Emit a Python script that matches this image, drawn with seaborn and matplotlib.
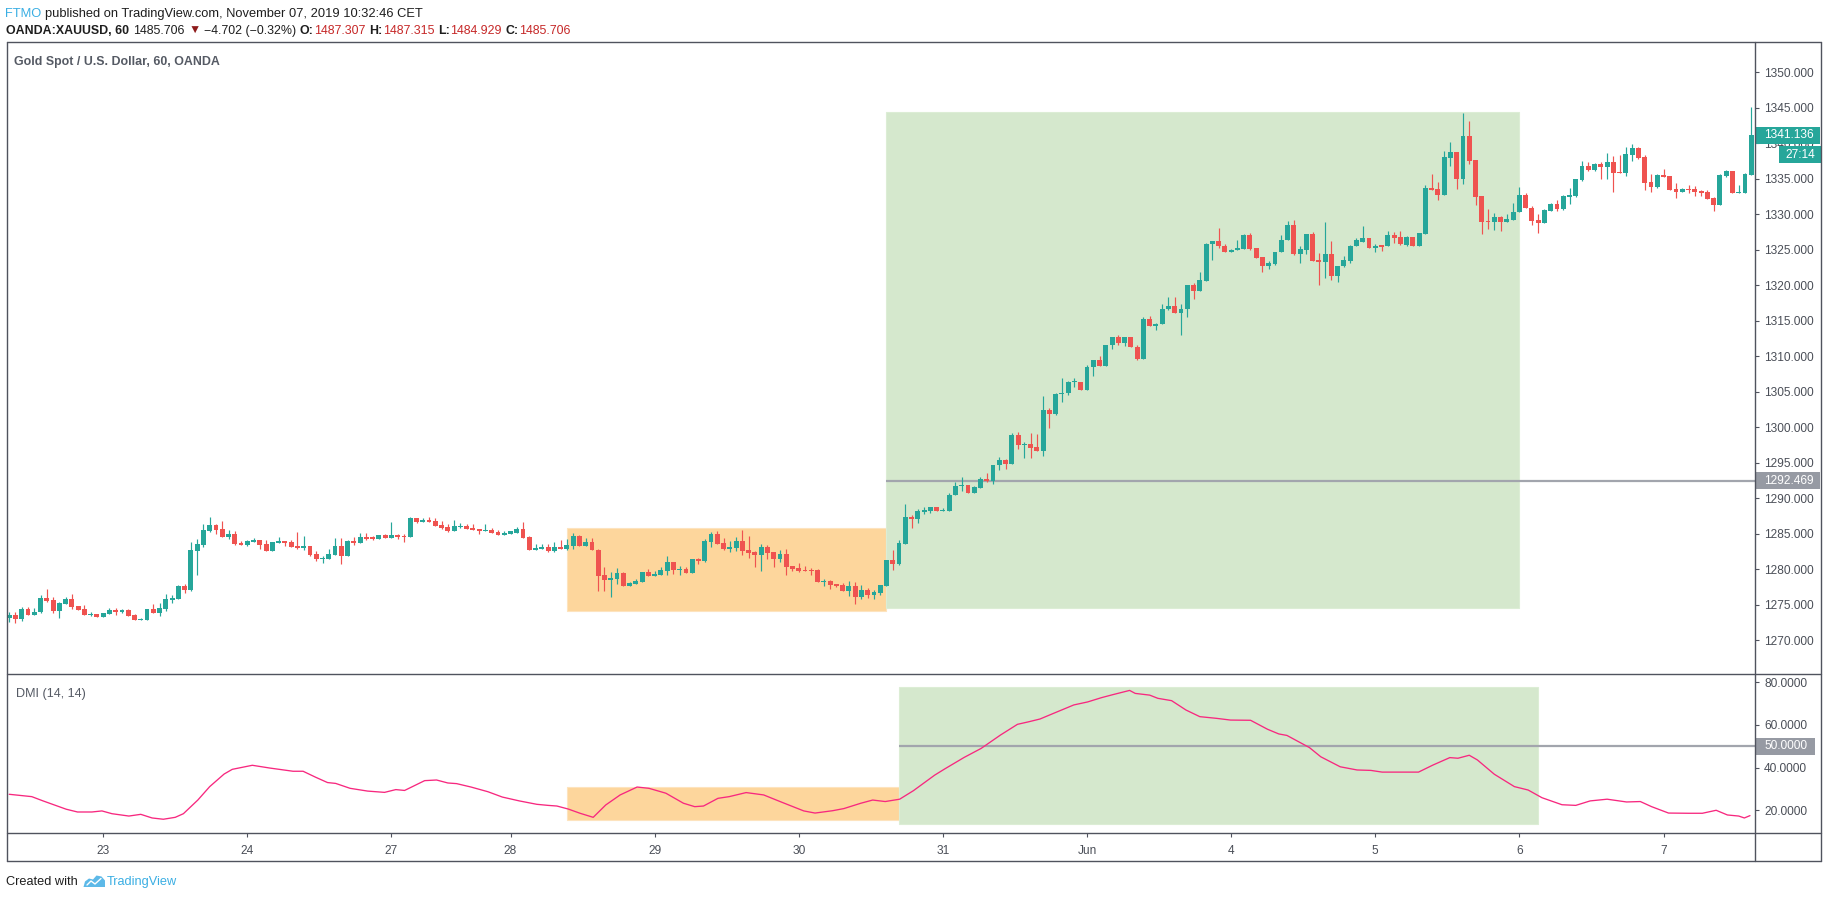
import numpy as np
import pandas as pd
import matplotlib
matplotlib.use("Agg")
import matplotlib.pyplot as plt
import matplotlib.transforms as mtransforms
from matplotlib.patches import Rectangle, Polygon
from matplotlib.lines import Line2D
import seaborn as sns

# ------------------------------------------------------------------ data
opens = [
    1273.19, 1273.57, 1273.00, 1274.41, 1273.57, 1273.99, 1275.96, 1275.68, 1274.13, 1275.12,
    1275.82, 1274.83, 1274.41, 1273.57, 1273.71, 1273.28, 1273.71, 1274.27, 1273.99, 1274.27,
    1273.57, 1272.86, 1272.86, 1274.41, 1273.85, 1274.41, 1275.68, 1275.82, 1277.65, 1277.09,
    1282.58, 1283.43, 1285.40, 1286.24, 1285.68, 1284.55, 1284.97, 1283.71, 1283.43, 1283.85,
    1284.13, 1283.57, 1282.58, 1283.71, 1283.99, 1283.85, 1283.28, 1283.00, 1283.28, 1282.16,
    1281.45, 1281.45, 1282.02, 1283.28, 1281.88, 1283.99, 1283.71, 1284.55, 1284.55, 1284.27,
    1284.83, 1284.41, 1284.83, 1284.69, 1284.55, 1287.23, 1286.66, 1286.95, 1286.81, 1286.24,
    1285.96, 1285.40, 1285.96, 1286.10, 1285.82, 1285.68, 1285.40, 1285.54, 1285.26, 1284.83,
    1284.97, 1285.12, 1285.68, 1284.55, 1282.72, 1282.86, 1283.14, 1282.58, 1283.14, 1282.86,
    1283.28, 1284.69, 1283.28, 1283.85, 1282.72, 1279.20, 1278.50, 1278.64, 1279.48, 1277.65,
    1277.93, 1278.21, 1279.62, 1279.06, 1279.20, 1279.76, 1281.03, 1279.90, 1280.04, 1279.48,
    1281.45, 1281.17, 1283.85, 1284.97, 1283.71, 1282.86, 1283.00, 1283.99, 1282.72, 1282.49,
    1282.02, 1283.14, 1282.44, 1281.45, 1282.16, 1280.47, 1280.19, 1279.90, 1279.90, 1279.90,
    1278.21, 1278.35, 1277.93, 1277.79, 1276.95, 1277.65, 1276.10, 1277.09, 1276.38, 1276.66,
    1277.65, 1281.31, 1280.75, 1283.57, 1287.43, 1287.04, 1288.01, 1288.21, 1288.84, 1288.21,
    1288.21, 1290.44, 1291.70, 1291.89, 1290.73, 1291.50, 1292.71, 1292.47, 1294.65, 1295.33,
    1294.80, 1298.96, 1297.46, 1297.70, 1297.27, 1296.64, 1302.50, 1301.82, 1304.63, 1304.78,
    1306.33, 1306.42, 1305.21, 1308.46, 1309.53, 1308.61, 1311.56, 1312.77, 1311.90, 1312.77,
    1311.37, 1309.67, 1315.29, 1314.23, 1314.52, 1316.60, 1317.13, 1316.07, 1316.60, 1320.09,
    1319.26, 1320.67, 1325.76, 1326.29, 1325.56, 1324.74, 1324.93, 1325.17, 1327.11, 1325.27,
    1324.01, 1322.66, 1323.04, 1324.64, 1326.34, 1328.52, 1324.45, 1324.98, 1327.16, 1323.62,
    1323.24, 1324.45, 1321.25, 1322.66, 1323.48, 1325.47, 1326.14, 1326.68, 1325.32, 1325.61,
    1325.47, 1327.11, 1326.82, 1325.71, 1326.82, 1325.56, 1327.26, 1333.70, 1333.56, 1332.73,
    1337.97, 1338.79, 1335.01, 1341.07, 1337.67, 1332.59, 1328.95, 1328.86, 1329.58, 1328.86,
    1329.24, 1330.26, 1332.73, 1330.94, 1329.20, 1328.78, 1330.47, 1331.45, 1330.75, 1332.44,
    1332.58, 1334.83, 1336.81, 1336.24, 1337.09, 1336.66, 1337.37, 1335.96, 1335.82, 1338.36,
    1339.34, 1338.07, 1334.55, 1333.85, 1335.54, 1335.40, 1333.57, 1333.14, 1333.57, 1333.57,
    1333.28, 1333.14, 1332.30, 1331.31, 1335.40, 1336.10, 1333.00, 1333.00, 1335.54]

highs = [
    1273.94, 1273.94, 1274.69, 1274.69, 1274.55, 1276.38, 1277.23, 1276.10, 1275.40, 1276.10,
    1276.52, 1274.83, 1274.97, 1273.99, 1273.71, 1273.85, 1274.55, 1274.55, 1274.41, 1274.41,
    1273.71, 1273.14, 1274.41, 1275.12, 1275.26, 1276.52, 1276.38, 1277.79, 1277.93, 1283.85,
    1284.27, 1286.38, 1287.37, 1286.38, 1286.81, 1285.54, 1285.40, 1283.99, 1284.13, 1284.41,
    1284.13, 1284.13, 1283.85, 1284.55, 1283.99, 1284.13, 1285.26, 1284.69, 1283.28, 1282.58,
    1281.88, 1282.86, 1284.41, 1284.41, 1284.13, 1284.55, 1285.12, 1285.12, 1284.69, 1284.83,
    1284.97, 1286.66, 1284.97, 1284.97, 1287.37, 1287.23, 1287.23, 1287.37, 1287.23, 1286.81,
    1286.38, 1286.95, 1286.52, 1286.38, 1286.38, 1285.68, 1286.38, 1285.82, 1285.54, 1285.40,
    1285.40, 1285.96, 1286.66, 1284.69, 1283.57, 1283.57, 1283.57, 1283.85, 1284.13, 1284.27,
    1285.12, 1284.83, 1284.41, 1284.41, 1282.86, 1280.33, 1279.62, 1280.19, 1279.62, 1278.21,
    1278.64, 1279.62, 1280.04, 1279.76, 1280.33, 1281.88, 1281.03, 1280.47, 1280.33, 1281.45,
    1281.59, 1284.27, 1285.26, 1285.40, 1284.41, 1283.99, 1284.55, 1285.54, 1284.69, 1282.58,
    1283.57, 1283.43, 1282.44, 1282.72, 1282.86, 1280.47, 1280.89, 1280.47, 1280.19, 1280.04,
    1278.64, 1278.50, 1277.93, 1278.07, 1278.35, 1278.21, 1277.79, 1277.37, 1277.09, 1277.79,
    1281.31, 1282.72, 1284.13, 1289.20, 1287.63, 1288.50, 1288.84, 1288.84, 1288.84, 1288.64,
    1290.73, 1292.23, 1293.05, 1291.89, 1291.79, 1293.05, 1293.58, 1294.75, 1295.81, 1295.48,
    1299.16, 1299.40, 1297.90, 1299.25, 1299.11, 1304.44, 1302.69, 1304.87, 1307.01, 1306.52,
    1306.91, 1306.42, 1308.75, 1309.53, 1310.11, 1311.66, 1312.77, 1312.97, 1312.77, 1312.77,
    1311.66, 1315.53, 1315.73, 1314.76, 1317.42, 1318.39, 1318.39, 1317.33, 1320.09, 1320.33,
    1321.93, 1326.00, 1326.29, 1328.08, 1325.85, 1325.17, 1326.39, 1327.26, 1327.40, 1325.27,
    1324.01, 1323.48, 1324.74, 1327.11, 1329.00, 1329.24, 1325.47, 1327.16, 1327.55, 1324.59,
    1328.95, 1326.29, 1322.75, 1324.16, 1325.71, 1326.68, 1328.37, 1326.68, 1325.85, 1325.71,
    1327.69, 1327.55, 1327.69, 1326.97, 1326.82, 1327.40, 1334.09, 1335.69, 1334.48, 1338.93,
    1340.19, 1338.79, 1344.26, 1343.15, 1337.67, 1332.59, 1330.70, 1330.12, 1329.82, 1330.07,
    1331.62, 1333.85, 1332.98, 1331.17, 1330.05, 1330.75, 1331.59, 1332.02, 1332.72, 1333.71,
    1334.97, 1337.51, 1337.37, 1337.23, 1337.37, 1338.64, 1338.21, 1338.36, 1339.48, 1339.90,
    1339.48, 1338.36, 1335.68, 1335.68, 1336.38, 1335.40, 1334.41, 1333.71, 1334.13, 1333.99,
    1333.43, 1333.43, 1332.44, 1335.68, 1336.24, 1336.10, 1334.13, 1335.82, 1345.12]

lows = [
    1272.63, 1272.49, 1272.77, 1273.57, 1273.57, 1273.85, 1275.40, 1273.85, 1273.14, 1275.12,
    1274.41, 1274.27, 1273.57, 1273.43, 1273.28, 1273.28, 1273.71, 1273.61, 1273.85, 1273.43,
    1272.86, 1272.86, 1272.86, 1273.85, 1273.43, 1274.13, 1275.26, 1275.82, 1276.66, 1276.95,
    1279.20, 1283.14, 1285.26, 1284.97, 1284.55, 1284.27, 1283.43, 1283.43, 1283.28, 1283.85,
    1282.86, 1282.58, 1282.58, 1283.71, 1283.28, 1283.14, 1282.86, 1282.72, 1281.88, 1281.17,
    1280.89, 1281.45, 1282.02, 1280.75, 1281.88, 1283.43, 1283.71, 1284.13, 1284.13, 1284.27,
    1284.41, 1284.41, 1284.27, 1283.85, 1284.55, 1286.52, 1286.66, 1286.66, 1286.10, 1285.68,
    1285.26, 1285.40, 1285.82, 1285.68, 1285.54, 1284.97, 1285.40, 1285.12, 1284.83, 1284.83,
    1284.97, 1285.12, 1284.41, 1282.72, 1282.72, 1282.86, 1282.44, 1282.44, 1282.86, 1282.72,
    1282.86, 1283.28, 1283.28, 1282.72, 1276.95, 1276.95, 1276.10, 1277.93, 1277.65, 1277.65,
    1277.93, 1278.21, 1279.06, 1279.06, 1279.20, 1279.20, 1279.34, 1279.20, 1279.48, 1279.48,
    1280.75, 1281.03, 1283.14, 1283.57, 1282.72, 1282.44, 1282.58, 1282.02, 1281.59, 1280.33,
    1279.76, 1281.45, 1280.33, 1281.03, 1279.20, 1279.76, 1279.62, 1279.76, 1279.20, 1278.21,
    1277.65, 1277.23, 1277.51, 1276.95, 1276.24, 1275.12, 1275.82, 1275.96, 1275.82, 1276.38,
    1277.65, 1279.90, 1280.61, 1283.57, 1285.88, 1286.56, 1287.72, 1287.91, 1288.21, 1288.21,
    1288.21, 1290.44, 1291.02, 1290.73, 1290.73, 1291.41, 1292.27, 1291.99, 1293.97, 1294.12,
    1294.80, 1296.88, 1295.67, 1295.67, 1296.64, 1295.91, 1299.88, 1301.68, 1303.52, 1304.49,
    1305.65, 1305.21, 1305.21, 1307.20, 1308.61, 1308.61, 1310.98, 1311.56, 1311.42, 1311.27,
    1309.43, 1309.67, 1314.23, 1313.74, 1314.52, 1316.50, 1316.07, 1312.97, 1315.58, 1318.00,
    1319.26, 1320.67, 1323.62, 1325.32, 1324.64, 1324.64, 1324.93, 1325.17, 1324.93, 1323.82,
    1321.83, 1322.36, 1322.80, 1324.64, 1326.34, 1324.21, 1323.19, 1324.45, 1323.48, 1320.09,
    1321.06, 1320.81, 1320.52, 1322.56, 1323.09, 1325.47, 1326.14, 1325.32, 1324.74, 1324.88,
    1325.47, 1325.90, 1325.66, 1325.56, 1325.56, 1325.56, 1327.26, 1333.41, 1332.05, 1332.73,
    1336.80, 1333.61, 1334.28, 1337.14, 1331.38, 1327.26, 1327.94, 1327.84, 1327.69, 1328.86,
    1329.24, 1330.26, 1330.94, 1328.50, 1327.37, 1328.78, 1330.47, 1330.47, 1330.61, 1331.45,
    1332.44, 1334.69, 1336.10, 1336.10, 1334.97, 1334.97, 1333.14, 1335.82, 1335.40, 1337.51,
    1337.79, 1333.43, 1333.14, 1333.71, 1335.26, 1333.43, 1332.30, 1333.14, 1333.00, 1332.58,
    1332.58, 1332.16, 1330.47, 1331.31, 1335.26, 1333.00, 1333.00, 1333.00, 1335.54]

closes = [
    1273.57, 1273.00, 1274.41, 1273.57, 1273.99, 1275.96, 1275.54, 1274.13, 1275.26, 1275.82,
    1274.69, 1274.27, 1273.57, 1273.71, 1273.28, 1273.85, 1274.27, 1273.99, 1274.27, 1273.43,
    1272.86, 1273.00, 1274.41, 1273.85, 1274.55, 1275.82, 1275.96, 1277.65, 1277.09, 1282.72,
    1283.57, 1285.54, 1286.24, 1285.54, 1284.55, 1284.97, 1283.57, 1283.43, 1283.99, 1284.13,
    1283.43, 1282.58, 1283.85, 1283.99, 1283.71, 1283.14, 1283.00, 1283.28, 1282.02, 1281.45,
    1281.59, 1282.16, 1283.28, 1281.88, 1283.99, 1283.71, 1284.55, 1284.27, 1284.27, 1284.83,
    1284.41, 1284.83, 1284.55, 1284.55, 1287.23, 1286.66, 1286.95, 1286.66, 1286.10, 1285.82,
    1285.40, 1286.10, 1286.10, 1285.68, 1285.54, 1285.40, 1285.54, 1285.12, 1284.83, 1285.12,
    1285.40, 1285.68, 1284.41, 1282.72, 1283.00, 1283.14, 1282.58, 1283.14, 1282.86, 1283.43,
    1284.69, 1283.28, 1283.85, 1282.72, 1279.06, 1278.50, 1278.78, 1279.48, 1277.65, 1278.07,
    1278.35, 1279.62, 1279.06, 1279.34, 1279.90, 1281.03, 1279.90, 1280.04, 1279.48, 1281.45,
    1281.17, 1283.99, 1284.97, 1283.57, 1282.86, 1283.14, 1283.99, 1282.58, 1282.30, 1282.02,
    1283.14, 1282.30, 1281.45, 1282.16, 1280.33, 1280.04, 1279.76, 1279.76, 1279.76, 1278.21,
    1278.35, 1277.79, 1277.65, 1276.95, 1277.65, 1276.10, 1277.09, 1276.38, 1276.81, 1277.79,
    1281.31, 1280.75, 1283.71, 1287.37, 1287.04, 1288.16, 1288.35, 1288.84, 1288.21, 1288.35,
    1290.53, 1291.79, 1291.89, 1290.73, 1291.65, 1292.71, 1292.37, 1294.75, 1295.33, 1294.80,
    1298.96, 1297.46, 1297.70, 1297.12, 1296.64, 1302.50, 1301.82, 1304.73, 1304.87, 1306.42,
    1306.42, 1305.21, 1308.56, 1309.53, 1308.61, 1311.66, 1312.77, 1311.90, 1312.77, 1311.27,
    1309.67, 1315.29, 1314.23, 1314.56, 1316.70, 1317.13, 1316.07, 1316.70, 1320.09, 1319.26,
    1320.77, 1325.85, 1326.29, 1325.47, 1324.74, 1324.98, 1325.27, 1327.11, 1325.13, 1323.82,
    1322.66, 1323.19, 1324.74, 1326.39, 1328.52, 1324.45, 1325.13, 1327.16, 1323.48, 1323.24,
    1324.45, 1321.25, 1322.75, 1323.62, 1325.56, 1326.34, 1326.68, 1325.32, 1325.56, 1325.42,
    1327.11, 1326.68, 1325.76, 1326.82, 1325.56, 1327.40, 1333.70, 1333.46, 1332.73, 1338.06,
    1338.79, 1335.01, 1341.07, 1337.53, 1332.44, 1328.86, 1328.86, 1329.58, 1328.86, 1329.34,
    1330.36, 1332.73, 1330.94, 1329.06, 1328.78, 1330.61, 1331.45, 1330.75, 1332.58, 1332.72,
    1334.97, 1336.81, 1336.24, 1337.09, 1336.66, 1337.37, 1335.82, 1335.82, 1338.50, 1339.34,
    1337.93, 1334.41, 1333.85, 1335.54, 1335.26, 1333.43, 1333.14, 1333.57, 1333.43, 1333.14,
    1333.00, 1332.16, 1331.31, 1335.54, 1336.10, 1333.00, 1333.14, 1335.68, 1341.136]

# DMI line, read at bar positions
dmi_bar = [0, 3.6, 5.4, 9.1, 10.9, 13.2, 14.8, 16.4, 19.1, 21.0, 22.8, 24.6, 26.5, 27.8,
           30.1, 32.0, 34.3, 35.6, 38.8, 41.6, 45.3, 46.9, 48.9, 50.8, 52.1, 54.4, 57.2,
           59.9, 61.7, 63.1, 66.3, 68.2, 70.0, 71.4, 73.7, 76.4, 78.7, 81.4, 84.2, 86.0,
           87.4, 89.2, 91.1, 93.2, 95.2, 97.5, 100.2, 102.1, 104.8, 107.6, 109.4, 110.8,
           113.1, 114.9, 117.6, 120.4, 123.1, 126.8, 128.6, 131.4, 133.2, 135.9, 137.8,
           139.8, 142.1, 144.3, 147.7, 149.3, 152.4, 155.1, 158.2, 160.9, 162.7, 164.5,
           166.7, 169.9, 172.1, 174.3, 176.1, 178.8, 179.7, 182.0, 183.3, 185.5, 187.8,
           190.0, 192.7, 194.9, 198.1, 200.8, 202.6, 203.9, 207.5, 209.3, 212.4, 215.1,
           217.3, 219.1, 224.9, 227.2, 229.9, 231.2, 233.0, 234.3, 237.0, 240.2, 242.4,
           244.6, 247.8, 250.0, 252.3, 255.0, 258.1, 260.3, 262.1, 264.8, 268.0, 270.2,
           272.4, 274.2, 276.0, 276.9, 277.8]
dmi_val = [27.5, 26.4, 24.4, 20.5, 19.2, 19.2, 19.7, 18.4, 17.3, 18.1, 16.4, 15.8, 16.7, 18.4,
           24.8, 31.1, 37.0, 39.2, 41.1, 39.8, 38.3, 38.3, 35.5, 33.0, 32.6, 30.3, 29.0,
           28.4, 29.7, 29.3, 33.9, 34.2, 32.8, 32.5, 30.9, 28.7, 26.2, 24.4, 22.8, 22.3,
           22.0, 20.6, 18.6, 16.7, 22.5, 27.2, 30.9, 30.3, 28.0, 23.3, 21.7, 22.0,
           25.6, 26.4, 28.3, 27.2, 24.0, 19.7, 18.7, 19.8, 20.8, 23.3, 24.8,
           24.1, 25.2, 29.2, 36.5, 39.4, 44.8, 49.0, 55.3, 60.3, 61.5, 62.8,
           65.5, 69.4, 70.8, 72.8, 74.2, 76.2, 74.8, 74.0, 72.5, 71.4, 67.0,
           63.9, 63.1, 62.3, 62.2, 58.0, 55.8, 55.1, 49.4, 45.1, 40.4, 38.9,
           38.7, 37.9, 37.9, 41.2, 44.7, 44.4, 45.8, 43.6, 36.9, 31.1, 29.5,
           25.9, 22.6, 22.3, 24.4, 25.2, 23.9, 24.1, 21.7, 18.7, 18.6, 18.6,
           20.0, 17.8, 17.3, 16.4, 17.5]

day_tick_bars = [15, 38, 61, 80, 103, 126, 149, 172, 195, 218, 241, 264]
day_tick_labels = ["23", "24", "27", "28", "29", "30", "31", "Jun", "4", "5", "6", "7"]
price_ticks = list(range(1270, 1351, 5))
dmi_ticks = [20, 40, 60, 80]

level_price = 1292.469
level_price_start = 140
level_dmi = 50.0
level_dmi_start = 142
last_close_label = "1341.136"
countdown = "27:14"

# zones: (start bar, end bar, low, high)
zone_orange_price = (89, 140, 1274.13, 1285.77)
zone_green_price = (140, 241, 1274.49, 1344.47)
zone_orange_dmi = (89, 142, 15.3, 30.9)
zone_green_dmi = (142, 244, 13.4, 77.7)

# ------------------------------------------------------------------ style
TEAL = "#26A69A"
RED = "#EF5350"
PINK = "#F7287F"
ORANGE_F = "#FDD69C"
ORANGE_E = "#FDE3BE"
GREEN_F = "#D5E8CD"
GREEN_E = "#DCEDD5"
LEVEL = "#A2A5AD"
LEVEL_BOX = "#969AA3"
FRAME = "#50535E"
TXT = "#4A4E57"
DARK = "#1E1E1E"
VALRED = "#C62828"
BLUE = "#3AAEE3"

sns.set_theme(style="white")
plt.rcParams["font.family"] = ["Liberation Sans", "DejaVu Sans"]
plt.rcParams["axes.unicode_minus"] = True

W, H = 1828, 898
fig = plt.figure(figsize=(W / 100, H / 100), dpi=100)
fig.patch.set_facecolor("white")


def fx(px):
    return px / W


def fy(py):
    return 1 - py / H


L, R = 7, 1755
T, MID, BOT, AXB = 42, 674, 833, 861
RIGHT = 1820.5

ax = fig.add_axes([fx(L), fy(MID), fx(R) - fx(L), fy(T) - fy(MID)])
ax2 = fig.add_axes([fx(L), fy(BOT), fx(R) - fx(L), fy(MID) - fy(BOT)])

n = len(closes)
idx = np.arange(n)
XMIN, XMAX = -0.35, n - 0.4

# ------------------------------------------------------------------ price pane
o = np.array(opens)
h = np.array(highs)
lo = np.array(lows)
c = np.array(closes)
up = c >= o
col = np.where(up, TEAL, RED)

for (x0, x1, y0, y1), fc, ec in [(zone_orange_price, ORANGE_F, ORANGE_E),
                                 (zone_green_price, GREEN_F, GREEN_E)]:
    ax.add_patch(Rectangle((x0, y0), x1 - x0, y1 - y0, facecolor=fc, edgecolor=ec,
                           lw=0.8, zorder=1))
ax.hlines(level_price, level_price_start, XMAX, color=LEVEL, lw=1.6, zorder=2)

ax.vlines(idx, lo, h, colors=col, linewidth=0.85, zorder=3)
ax.bar(idx, np.maximum(np.abs(c - o), 0.13), bottom=np.minimum(o, c), width=0.78,
       color=col, linewidth=0, zorder=4)

ax.set_ylim(1265.25, 1354.27)

# ------------------------------------------------------------------ DMI pane
for (x0, x1, y0, y1), fc, ec in [(zone_orange_dmi, ORANGE_F, ORANGE_E),
                                 (zone_green_dmi, GREEN_F, GREEN_E)]:
    ax2.add_patch(Rectangle((x0, y0), x1 - x0, y1 - y0, facecolor=fc, edgecolor=ec,
                            lw=0.8, zorder=1))
ax2.hlines(level_dmi, level_dmi_start, XMAX, color=LEVEL, lw=1.6, zorder=2)
dmi_df = pd.DataFrame({"bar": dmi_bar, "dmi": dmi_val})
sns.lineplot(data=dmi_df, x="bar", y="dmi", ax=ax2, color=PINK, linewidth=0.95,
             sort=False, estimator=None, zorder=3)
ax2.set_ylim(9.35, 83.9)
ax2.set_xlabel("")
ax2.set_ylabel("")

# ------------------------------------------------------------------ axes cosmetics
for a in (ax, ax2):
    a.set_xlim(XMIN, XMAX)
    a.set_facecolor("white")
    for s in a.spines.values():
        s.set_visible(False)
    a.yaxis.tick_right()
    a.tick_params(axis="y", which="both", right=True, left=False, direction="out",
                  length=3.0, width=0.8, color=FRAME, pad=3.6, labelsize=8.6,
                  labelcolor=TXT)
    a.grid(False)

ax.set_yticks(price_ticks)
ax.set_yticklabels([f"{v:.3f}" for v in price_ticks])
ax.set_xticks([])
ax2.set_yticks(dmi_ticks)
ax2.set_yticklabels([f"{v:.4f}" for v in dmi_ticks])
ax2.set_xticks(day_tick_bars)
ax2.set_xticklabels(day_tick_labels)
ax2.tick_params(axis="x", bottom=True, direction="out", length=3.0, width=0.8,
                color=FRAME, pad=6.0, labelsize=8.6, labelcolor=TXT)

# ------------------------------------------------------------------ frame lines
def fline(x0, y0, x1, y1):
    fig.add_artist(Line2D([fx(x0), fx(x1)], [fy(y0), fy(y1)], color=FRAME, lw=1.0,
                          zorder=6))


fline(L, T, RIGHT, T)
fline(L, AXB, RIGHT, AXB)
fline(L, T, L, AXB)
fline(RIGHT, T, RIGHT, AXB)
fline(R, T, R, AXB)
fline(L, MID, RIGHT, MID)
fline(L, BOT, RIGHT, BOT)

# ------------------------------------------------------------------ axis value labels
trP = mtransforms.blended_transform_factory(fig.transFigure, ax.transData)
trD = mtransforms.blended_transform_factory(fig.transFigure, ax2.transData)
ppu = 632 / (1354.27 - 1265.25)      # pixels per price unit
dpu = 159 / (83.9 - 9.35)            # pixels per DMI unit


def value_box(tr, value, text, face, x0px, x1px, hpx, upp, dy_px=0.0):
    off = mtransforms.ScaledTranslation(0, -dy_px / 100, fig.dpi_scale_trans)
    hh = hpx / 2 / upp
    fig.add_artist(Rectangle((fx(x0px), value - hh), fx(x1px) - fx(x0px), 2 * hh,
                             transform=tr + off, facecolor=face, edgecolor="none",
                             zorder=5))
    fig.text(fx((x0px + x1px) / 2 + 1), value, text, transform=tr + off, ha="center",
             va="center", color="white", fontsize=8.6, zorder=7)


last_val = closes[-1]
value_box(trP, last_val, last_close_label, TEAL, R, RIGHT, 17.3, ppu)
value_box(trP, last_val, countdown, TEAL, 1779, RIGHT, 16.3, ppu, dy_px=19.3)
value_box(trP, level_price, f"{level_price:.3f}", LEVEL_BOX, R, RIGHT, 17.3, ppu)
value_box(trD, level_dmi, f"{level_dmi:.4f}", LEVEL_BOX, R, 1814.7, 17.0, dpu)

# ------------------------------------------------------------------ header texts
axo = fig.add_axes([0, 0, 1, 1], zorder=-1)
axo.axis("off")
axo.set_facecolor("none")


def segments(x_px, y_px, parts, size):
    s0, c0, w0, _ = parts[0]
    prev = axo.text(fx(x_px), fy(y_px), s0, color=c0, fontweight=w0, fontsize=size,
                    va="center", ha="left", transform=fig.transFigure)
    for s, colr, wt, gap in parts[1:]:
        prev = axo.annotate(s, xy=(1, 0.5), xycoords=prev, xytext=(gap, 0),
                            textcoords="offset points", va="center", ha="left",
                            color=colr, fontweight=wt, fontsize=size,
                            annotation_clip=False)
    return prev


SP = 2.5
segments(5.5, 14.3, [("FTMO", BLUE, "normal", 0),
                     ("published on TradingView.com, November 07, 2019 10:32:46 CET",
                      DARK, "normal", SP)], 9.3)
segments(5.5, 30.8, [("OANDA:XAUUSD, 60", DARK, "bold", 0),
                     ("1485.706", DARK, "normal", SP + 1),
                     ("\u25BC", "#8E1B1B", "normal", SP),
                     ("\u22124.702 (\u22120.32%)", DARK, "normal", SP),
                     ("O:", DARK, "bold", SP),
                     ("1487.307", VALRED, "normal", 0.5),
                     ("H:", DARK, "bold", SP),
                     ("1487.315", VALRED, "normal", 0.5),
                     ("L:", DARK, "bold", SP),
                     ("1484.929", VALRED, "normal", 0.5),
                     ("C:", DARK, "bold", SP),
                     ("1485.706", VALRED, "normal", 0.5)], 8.9)

fig.text(fx(14.5), fy(62.5), "Gold Spot / U.S. Dollar, 60, OANDA", color="#555A64",
         fontweight="bold", fontsize=8.9, ha="left", va="center")
fig.text(fx(15.5), fy(693.5), "DMI (14, 14)", color="#555A64", fontsize=9.1,
         ha="left", va="center")

# footer
fig.text(fx(5.5), fy(882), "Created with", color=DARK, fontsize=9.2, ha="left",
         va="center")
logo = Polygon([(fx(83.5), fy(887)), (fx(85), fy(881.5)), (fx(89), fy(878.5)),
                (fx(93), fy(879.5)), (fx(96.5), fy(875.5)), (fx(101.5), fy(876.5)),
                (fx(105), fy(880.5)), (fx(105), fy(887))],
               closed=True, transform=fig.transFigure, facecolor="#5DB9E8",
               edgecolor="none", zorder=5)
fig.add_artist(logo)
fig.add_artist(Line2D([fx(87), fx(91), fx(95), fx(101)],
                      [fy(885), fy(881), fy(884), fy(878.5)], color="white", lw=1.0,
                      transform=fig.transFigure, zorder=6))
fig.text(fx(106.5), fy(882), "TradingView", color=BLUE, fontsize=9.2, ha="left",
         va="center")

fig.savefig("out.png", dpi=100, facecolor="white")
